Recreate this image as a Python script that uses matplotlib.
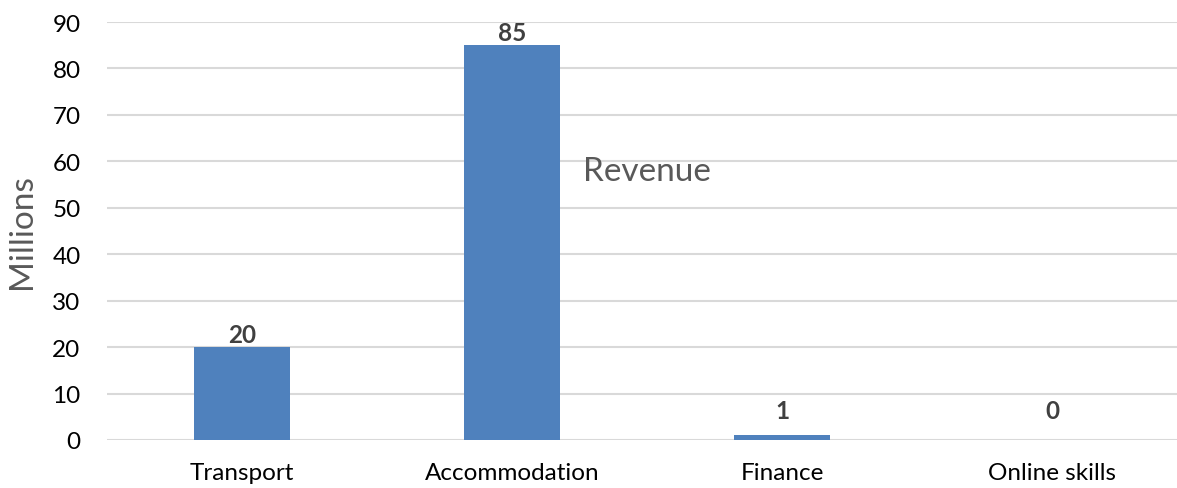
import matplotlib
matplotlib.use("Agg")
import matplotlib.pyplot as plt

# datos del grafico
categorias = ["Transport", "Accommodation", "Finance", "Online skills"]
ingresos = [20, 85, 1, 0]
ticks_y = [0, 10, 20, 30, 40, 50, 60, 70, 80, 90]

plt.rcParams["font.family"] = ["Lato", "DejaVu Sans"]

fig = plt.figure(figsize=(11.77, 4.89), dpi=100)
ax = fig.add_axes([107 / 1177, 48 / 489, 1080 / 1177, 418 / 489])

x = range(len(categorias))
ax.bar(x, ingresos, width=0.356, color="#4F81BD", zorder=3)

# etiquetas de datos (Excel las sube un poco cuando la barra es muy baja)
for xi, v in zip(x, ingresos):
    ax.annotate(str(v), (xi, max(v, 3.6)), xytext=(0, 1), textcoords="offset points",
                ha="center", va="bottom", fontsize=17.5, fontweight="bold", color="#404040")

ax.set_xlim(-0.5, len(categorias) - 0.5)
ax.set_ylim(0, 90)
ax.set_yticks(ticks_y)
ax.set_xticks(list(x))
ax.set_xticklabels(categorias)
ax.yaxis.grid(True, color="#D9D9D9", linewidth=1.5, zorder=0)
ax.tick_params(axis="y", length=0, pad=19, labelsize=17.5, labelcolor="#000000")
ax.tick_params(axis="x", length=0, pad=16, labelsize=17.5, labelcolor="#000000")
for s in ax.spines.values():
    s.set_visible(False)

fig.text(22 / 1177, 1 - 232 / 489, "Millions", fontsize=24, color="#595959",
         rotation=90, ha="center", va="center")

ax.text(1.262, 58, "Revenue", fontsize=24, color="#595959", ha="left", va="center")

fig.savefig("out.png", dpi=100)
